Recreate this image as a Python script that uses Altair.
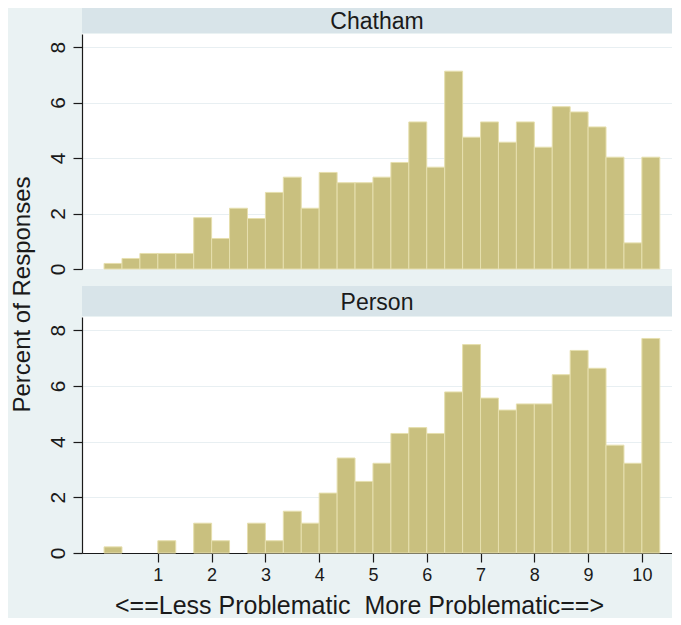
import altair as alt
import pandas as pd

# ---- data ----
panels = ["Chatham", "Person"]
bin_width = 1 / 3
chatham_pct = [0.20, 0.38, 0.56, 0.56, 0.56, 1.85, 1.10, 2.19, 1.82, 2.76, 3.31,
               2.19, 3.48, 3.11, 3.11, 3.31, 3.84, 5.30, 3.67, 7.13, 4.75, 5.30,
               4.57, 5.30, 4.39, 5.85, 5.66, 5.12, 4.03, 0.94, 4.03]
person_pct = [0.22, 0.00, 0.00, 0.44, 0.00, 1.07, 0.44, 0.00, 1.07, 0.44, 1.50,
              1.07, 2.15, 3.41, 2.57, 3.22, 4.29, 4.50, 4.29, 5.78, 7.48, 5.56,
              5.13, 5.35, 5.35, 6.40, 7.27, 6.63, 3.87, 3.22, 7.70]
x_ticks = list(range(1, 11))
y_ticks = [0, 2, 4, 6, 8]
x_title = "<==Less Problematic\u00a0 More Problematic==>"
y_title = "Percent of Responses"

# ---- style ----
FONT = "Liberation Sans"
BG = "#EAF2F3"
STRIP = "#D8E4E9"
BAR = "#C9C07F"
EDGE = "#E6DFAE"
GRID = "#E8EFF2"
INK = "#1a1a1a"
W = 590
X_DOMAIN = [-0.41, 10.56]
Y_DOMAIN = [0, 8.47]


def panel(name, values, height, strip_h, show_x, show_ytitle):
    df = pd.DataFrame({
        "panel": name,
        "lo": [i * bin_width for i in range(len(values))],
        "hi": [(i + 1) * bin_width for i in range(len(values))],
        "pct": values,
    })
    xscale = alt.Scale(domain=X_DOMAIN, nice=False, zero=False)
    yscale = alt.Scale(domain=Y_DOMAIN, nice=False, zero=False)
    if show_x:
        xaxis = alt.Axis(values=x_ticks, title=x_title, grid=False, tickSize=9,
                         labelFontSize=18, labelPadding=4, titleFontSize=25,
                         titlePadding=9, titleFontWeight="normal", titleX=277,
                         domainColor=INK, tickColor=INK, labelColor=INK,
                         titleColor=INK, labelFont=FONT, titleFont=FONT,
                         domainWidth=1.2, tickWidth=1.2)
    else:
        xaxis = None
    yaxis_kwargs = dict(values=y_ticks, grid=True, gridColor=GRID, gridWidth=1.2,
                        tickSize=9, labelAngle=270, labelAlign="center",
                        labelBaseline="bottom", labelFontSize=21, labelPadding=5,
                        domainColor=INK, tickColor=INK, labelColor=INK,
                        labelFont=FONT, domainWidth=1.2, tickWidth=1.2)
    if show_ytitle:
        yaxis = alt.Axis(title=y_title, titleFontSize=24, titleFontWeight="normal",
                         titleFont=FONT, titleColor=INK, titleAngle=270,
                         titleAlign="center", titleBaseline="bottom",
                         titleX=-48, titleY=260, **yaxis_kwargs)
    else:
        yaxis = alt.Axis(title=None, **yaxis_kwargs)

    base = alt.Chart(df)
    bars = base.transform_filter("datum.pct > 0").mark_rect(
        color=BAR, stroke=EDGE, strokeWidth=1
    ).encode(
        x=alt.X("lo:Q", scale=xscale, axis=xaxis),
        x2="hi:Q",
        y=alt.Y("pct:Q", scale=yscale, axis=yaxis),
        y2=alt.datum(0),
    )
    head = alt.Chart(pd.DataFrame({"panel": [name]}))
    strip = head.mark_rect(color=STRIP).encode(
        x=alt.value(0), x2=alt.value(W),
        y=alt.value(-strip_h), y2=alt.value(-1),
    )
    label = head.mark_text(font=FONT, fontSize=23, color=INK,
                           baseline="middle", align="center").encode(
        text="panel:N", x=alt.value(W / 2), y=alt.value(-strip_h / 2 + 1),
    )
    return alt.layer(strip, label, bars).properties(
        width=W, height=height,
        view=alt.ViewBackground(fill="white", stroke=None),
    )


top = panel(panels[0], chatham_pct, 235, 26, False, True)
bottom = panel(panels[1], person_pct, 236, 31, True, False)

chart = alt.vconcat(top, bottom, spacing=48, bounds="flush").properties(
    background=BG,
    padding={"left": 2, "top": 0, "right": 0, "bottom": 0},
).configure_view(stroke=None)

chart.save("out.html", embed_options={"renderer": "svg", "actions": False})
